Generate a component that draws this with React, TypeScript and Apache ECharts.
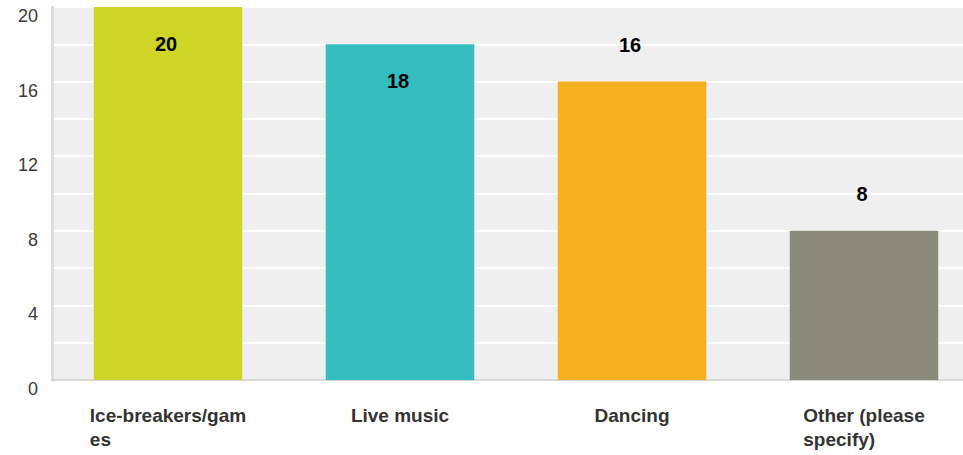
import React, { useEffect, useRef } from "react";
import * as echarts from "echarts";

const categories = ["Ice-breakers/games", "Live music", "Dancing", "Other (please specify)"];
const categoryLabels = ["Ice-breakers/gam\nes", "Live music", "Dancing", "Other (please\nspecify)"];
const values = [20, 18, 16, 8];
const barColors = ["#cfd427", "#34bdbf", "#f6b01f", "#898a7a"];
const labelInside = [true, true, false, false];
const yTickLabels = [0, 4, 8, 12, 16, 20];

const FONT = "'Liberation Sans', Arial, Helvetica, sans-serif";

export default function App() {
  const ref = useRef<HTMLDivElement>(null);
  useEffect(() => {
    if (!ref.current) return;
    const chart = echarts.init(ref.current, null, { renderer: "svg" });
    chart.setOption({
      animation: false,
      grid: {
        left: 52,
        top: 7,
        width: 928,
        height: 373,
        show: true,
        backgroundColor: "#efefef",
        borderWidth: 0,
        containLabel: false,
      },
      xAxis: {
        type: "category",
        data: categories,
        axisTick: { show: false },
        axisLine: { show: true, lineStyle: { color: "#cccccc", width: 1.5 } },
        axisLabel: {
          interval: 0,
          margin: 23,
          formatter: (_v: string, i: number) =>
            categoryLabels[i].split("\n").map((s) => `{a|${s}}`).join("\n"),
          rich: {
            a: {
              align: "left",
              fontFamily: FONT,
              fontSize: 19,
              fontWeight: "bold",
              color: "#333333",
              lineHeight: 24,
            },
          },
        },
      },
      yAxis: {
        type: "value",
        min: 0,
        max: 20,
        interval: 2,
        axisLine: { show: true, lineStyle: { color: "#dddddd", width: 3 } },
        axisTick: { show: false },
        splitLine: { show: true, lineStyle: { color: "#ffffff", width: 2 } },
        axisLabel: {
          margin: 14,
          fontFamily: FONT,
          fontSize: 18,
          color: "#3a3a3a",
          verticalAlign: "top",
          formatter: (v: number) => (yTickLabels.includes(v) ? String(v) : ""),
        },
      },
      series: [
        {
          type: "bar",
          barCategoryGap: "36%",
          data: values.map((v, i) => ({
            value: v,
            itemStyle: { color: barColors[i] },
            label: {
              show: true,
              position: labelInside[i] ? "insideTop" : "top",
              distance: 27,
              offset: [-2, 0],
              fontFamily: FONT,
              fontSize: 20,
              fontWeight: "bold",
              color: "#000000",
            },
          })),
        },
      ],
    });
    return () => chart.dispose();
  }, []);
  return (
    <div
      style={{
        position: "absolute",
        left: 0,
        top: 0,
        width: 963,
        height: 455,
        overflow: "hidden",
      }}
    >
      <div ref={ref} style={{ width: 990, height: 455 }} />
    </div>
  );
}
